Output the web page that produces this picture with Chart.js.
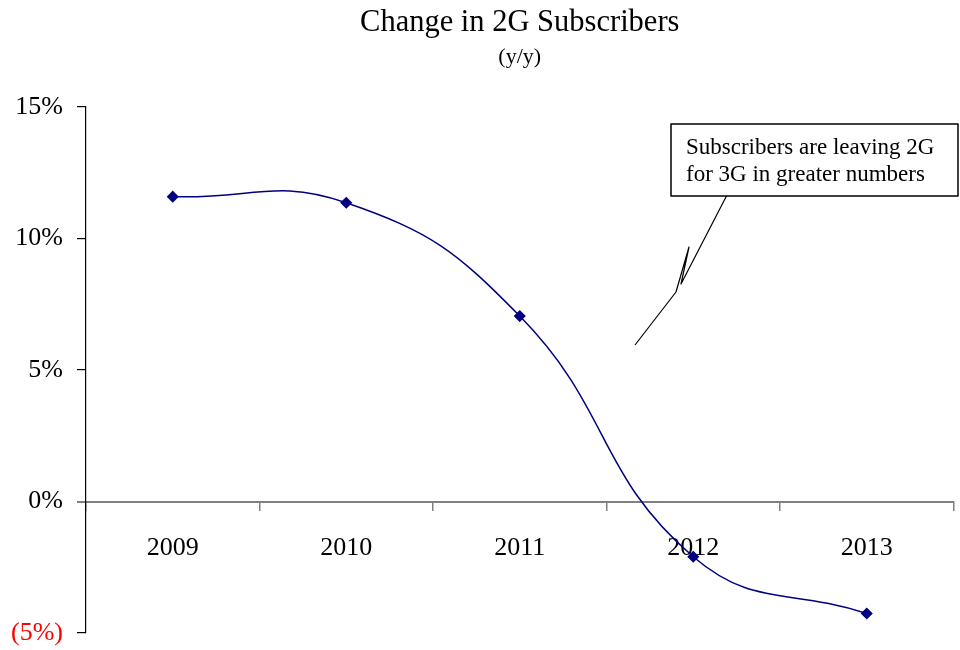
<!DOCTYPE html>
<html>
<head>
<meta charset="utf-8">
<title>Change in 2G Subscribers</title>
<script src="https://cdn.jsdelivr.net/npm/chart.js@4/dist/chart.umd.min.js"></script>
<style>
    html, body { margin: 0; padding: 0; background: #fff; }
    #wrap { width: 960px; height: 650px; }
</style>
</head>
<body>
<div id="wrap"><canvas id="myChart"></canvas></div>
<script>
const years = ['2009', '2010', '2011', '2012', '2013'];
const subscriberChange = [11.59, 11.36, 7.05, -2.10, -4.26];
const yTicks = [-5, 0, 5, 10, 15];
const noteLines = ['Subscribers are leaving 2G', 'for 3G in greater numbers'];

const serif = "'Liberation Serif', 'Times New Roman', serif";
Chart.defaults.color = '#000';

function formatPct(v) {
    return v < 0 ? '(' + (-v) + '%)' : v + '%';
}

// text box with a broken pointer line, top right of the plot
const calloutBox = {
    id: 'calloutBox',
    afterDraw(chart) {
        const ctx = chart.ctx;
        ctx.save();
        ctx.strokeStyle = '#000';
        ctx.lineWidth = 1.2;
        ctx.lineJoin = 'round';
        ctx.beginPath();
        ctx.moveTo(727, 195);
        ctx.lineTo(681, 284);
        ctx.lineTo(689, 247);
        ctx.lineTo(676, 292);
        ctx.lineTo(635, 345);
        ctx.stroke();

        ctx.fillStyle = '#fff';
        ctx.fillRect(671, 124, 287, 72);
        ctx.lineWidth = 1.5;
        ctx.strokeRect(671, 124, 287, 72);

        ctx.fillStyle = '#000';
        ctx.font = '23px ' + serif;
        ctx.textAlign = 'left';
        ctx.textBaseline = 'alphabetic';
        noteLines.forEach((line, i) => ctx.fillText(line, 686, 154 + i * 27));
        ctx.restore();
    }
};

function initChart(target) {
    const data = {
        labels: years,
        datasets: [{
            label: 'y/y change',
            data: subscriberChange,
            borderColor: '#000080',
            backgroundColor: '#000080',
            borderWidth: 1.5,
            tension: 0.45,
            pointStyle: 'rectRot',
            pointRadius: 5,
            pointHoverRadius: 5
        }]
    };

    const config = {
        type: 'line',
        data: data,
        plugins: [calloutBox],
        options: {
            responsive: true,
            maintainAspectRatio: false,
            animation: false,
            layout: { padding: { left: 0, right: 3, top: 0, bottom: 17 } },
            plugins: {
                legend: { display: false },
                tooltip: { enabled: false },
                title: {
                    display: true,
                    fullSize: false,
                    text: 'Change in 2G Subscribers',
                    font: { family: serif, size: 30.5, weight: 'normal' },
                    padding: { top: 5, bottom: 2 }
                },
                subtitle: {
                    display: true,
                    fullSize: false,
                    text: '(y/y)',
                    color: '#000',
                    font: { family: serif, size: 22, weight: 'normal' },
                    padding: { top: 0, bottom: 37 }
                }
            },
            scales: {
                x: {
                    position: { y: 0 },
                    offset: true,
                    afterFit: (axis) => {
                        axis.paddingTop = 0;
                        axis.paddingBottom = 0;
                    },
                    grid: {
                        offset: true,
                        drawOnChartArea: false,
                        drawTicks: true,
                        tickLength: 8,
                        color: '#808080',
                        lineWidth: 1.5
                    },
                    border: { display: true, color: '#808080', width: 2 },
                    ticks: {
                        font: { family: serif, size: 26 },
                        padding: 23,
                        maxRotation: 0
                    }
                },
                y: {
                    min: -5,
                    max: 15,
                    afterBuildTicks: (axis) => {
                        axis.ticks = yTicks.map((v) => ({ value: v }));
                    },
                    afterFit: (axis) => {
                        axis.width = 86;
                        axis.paddingBottom = 0;
                    },
                    grid: {
                        drawOnChartArea: false,
                        drawTicks: true,
                        tickLength: 9,
                        color: (c) => (c.tick && c.tick.value === 0 ? '#808080' : '#000'),
                        lineWidth: (c) => (c.tick && c.tick.value === 0 ? 2 : 1.2)
                    },
                    border: { display: true, color: '#000', width: 1.2 },
                    ticks: {
                        font: { family: serif, size: 26 },
                        padding: 14,
                        color: (c) => (c.tick.value < 0 ? '#ff0000' : '#000'),
                        callback: (v) => formatPct(v)
                    }
                }
            }
        }
    };

    return new Chart(target, config);
}

let chart;
function mainEvent() {
    chart = initChart(document.querySelector('#myChart'));
}
document.addEventListener('DOMContentLoaded', mainEvent);
</script>
</body>
</html>
